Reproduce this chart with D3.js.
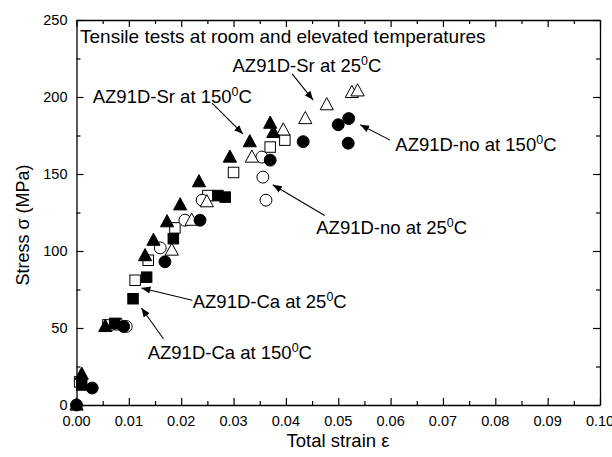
<!DOCTYPE html>
<html><head><meta charset="utf-8">
<script src="https://cdn.jsdelivr.net/npm/d3@7"></script>
<style>body{margin:0;background:#fff}svg{display:block}text{font-family:"Liberation Sans",Arial,sans-serif;fill:#000}</style>
</head><body>
<svg id="c" width="612" height="457"></svg>
<script>
// ---- data ----
const xTicks = [0,0.01,0.02,0.03,0.04,0.05,0.06,0.07,0.08,0.09,0.10];
const yTicks = [0,50,100,150,200,250];
const srHot = [[0,0],[0.001,20],[0.0055,51],[0.0131,97],[0.0147,107],[0.0173,119],[0.0198,130],[0.0234,145],[0.0293,161],[0.0331,171],[0.037,183],[0.0376,177]];
const srRoom = [[0.0085,52],[0.0182,100.6],[0.022,120],[0.0249,132],[0.0335,161],[0.0395,178.6],[0.0437,186],[0.0478,195],[0.0526,203],[0.0537,204]];
const caRoom = [[0.0006,15],[0.006,52],[0.0112,81],[0.0137,94],[0.0188,115],[0.0251,136],[0.030,151],[0.037,167.5],[0.0398,172]];
const caHot = [[0.001,13],[0.0073,53],[0.0108,69],[0.0134,83],[0.0185,108],[0.027,136],[0.0284,135]];
const noRoom = [[0.0095,51],[0.016,102],[0.0207,120],[0.024,133],[0.0354,161],[0.0356,148],[0.0362,133]];
const noHot = [[0,0],[0.003,11],[0.009,51],[0.0169,93],[0.0236,120],[0.037,159],[0.0433,171],[0.05,182],[0.052,186],[0.0519,170]];
const labels = [
  {t:"AZ91D-Sr at 25", tx:0.0298, ty:220, ax:0.0412, ay:215, bx:0.0452, by:198},
  {t:"AZ91D-Sr at 150", tx:0.0031, ty:200, ax:0.0259, ay:196, bx:0.0318, by:176},
  {t:"AZ91D-no at 150", tx:0.0609, ty:169, ax:0.0599, ay:172, bx:0.0542, by:182},
  {t:"AZ91D-no at 25", tx:0.0458, ty:115, ax:0.0474, ay:123, bx:0.0375, by:143},
  {t:"AZ91D-Ca at 25", tx:0.0222, ty:67, ax:0.0221, ay:68, bx:0.0124, by:76},
  {t:"AZ91D-Ca at 150", tx:0.0136, ty:34, ax:0.0166, ay:43, bx:0.0124, by:63}
];

// ---- layout ----
const svg = d3.select("#c");
const L=76.5, R=600, T=20, B=405;
const x = d3.scaleLinear().domain([0,0.10]).range([L,R]);
const y = d3.scaleLinear().domain([0,250]).range([B,T]);

svg.append("defs").append("marker").attr("id","ah").attr("viewBox","0 0 10 10")
  .attr("refX",10).attr("refY",5).attr("markerWidth",9).attr("markerHeight",9)
  .attr("markerUnits","userSpaceOnUse").attr("orient","auto")
  .append("path").attr("d","M0,1L10,5L0,9z").attr("fill","#000");

// axes
const xMinor = d3.range(0,0.1001,0.005);
const yMinor = d3.range(0,250.1,25);
const ax = svg.append("g");
ax.append("g").attr("transform",`translate(0,${B})`)
  .call(d3.axisBottom(x).tickValues(xMinor).tickSizeOuter(0).tickFormat(""))
  .call(g=>g.selectAll(".tick line").attr("y2",(d,i)=>i%2? -4:-7));
ax.append("g").attr("transform",`translate(0,${T})`)
  .call(d3.axisTop(x).tickValues(xMinor).tickSizeOuter(0).tickFormat(""))
  .call(g=>g.selectAll(".tick line").attr("y2",(d,i)=>i%2? 4:7));
ax.append("g").attr("transform",`translate(${L},0)`)
  .call(d3.axisLeft(y).tickValues(yMinor).tickSizeOuter(0).tickFormat(""))
  .call(g=>g.selectAll(".tick line").attr("x2",(d,i)=>i%2? 4:7));
ax.append("g").attr("transform",`translate(${R},0)`)
  .call(d3.axisRight(y).tickValues(yMinor).tickSizeOuter(0).tickFormat(""))
  .call(g=>g.selectAll(".tick line").attr("x2",(d,i)=>i%2? -4:-7));
ax.selectAll("path.domain").attr("stroke","#000").attr("stroke-width",1.3);
ax.selectAll(".tick line").attr("stroke","#000").attr("stroke-width",1.2);

svg.append("g").selectAll("text").data(xTicks).join("text")
  .attr("x",d=>x(d)).attr("y",426).attr("text-anchor","middle").attr("font-size",14.5)
  .text(d=>d3.format(".2f")(d));
svg.append("g").selectAll("text").data(yTicks).join("text")
  .attr("x",L-9).attr("y",d=>y(d)+5).attr("text-anchor","end").attr("font-size",14.5)
  .text(d=>d);

svg.append("text").attr("x",338).attr("y",447).attr("text-anchor","middle").attr("font-size",18.5)
  .text("Total strain ε");
svg.append("text").attr("transform","translate(29,225) rotate(-90)").attr("text-anchor","middle").attr("font-size",18)
  .text("Stress  σ (MPa)");

svg.append("text").attr("x",80).attr("y",43).attr("font-size",19)
  .text("Tensile tests at room and elevated temperatures");

// markers
const S=10.5;
const pts = svg.append("g");
function tri(g,data,fill){
  g.selectAll(null).data(data).join("path")
   .attr("d",d=>{const cx=x(d[0]),cy=y(d[1]),h=S*0.58;return `M${cx},${cy-h-1}L${cx+h+0.5},${cy+h-1}L${cx-h-0.5},${cy+h-1}Z`;})
   .attr("fill",fill).attr("stroke","#000").attr("stroke-width",1);
}
function sq(g,data,fill){
  g.selectAll(null).data(data).join("rect")
   .attr("x",d=>x(d[0])-S/2).attr("y",d=>y(d[1])-S/2).attr("width",S).attr("height",S)
   .attr("fill",fill).attr("stroke","#000").attr("stroke-width",1);
}
function circ(g,data,fill){
  g.selectAll(null).data(data).join("circle")
   .attr("cx",d=>x(d[0])).attr("cy",d=>y(d[1])).attr("r",S/2+0.7)
   .attr("fill",fill).attr("stroke","#000").attr("stroke-width",1);
}
sq(pts.append("g"),caRoom,"#fff");
circ(pts.append("g"),noRoom,"#fff");
tri(pts.append("g"),srRoom,"#fff");
sq(pts.append("g"),caHot,"#000");
circ(pts.append("g"),noHot,"#000");
tri(pts.append("g"),srHot,"#000");

// annotations
const an = svg.append("g");
an.selectAll("line").data(labels).join("line")
  .attr("x1",d=>x(d.ax)).attr("y1",d=>y(d.ay)).attr("x2",d=>x(d.bx)).attr("y2",d=>y(d.by))
  .attr("stroke","#000").attr("stroke-width",1.1).attr("marker-end","url(#ah)");
const tt = an.selectAll("text").data(labels).join("text")
  .attr("x",d=>x(d.tx)).attr("y",d=>y(d.ty)+6).attr("font-size",18.5);
tt.append("tspan").text(d=>d.t);
tt.append("tspan").attr("dy",-7).attr("font-size",12.5).text("0");
tt.append("tspan").attr("dy",7).text("C");
</script>
</body></html>
